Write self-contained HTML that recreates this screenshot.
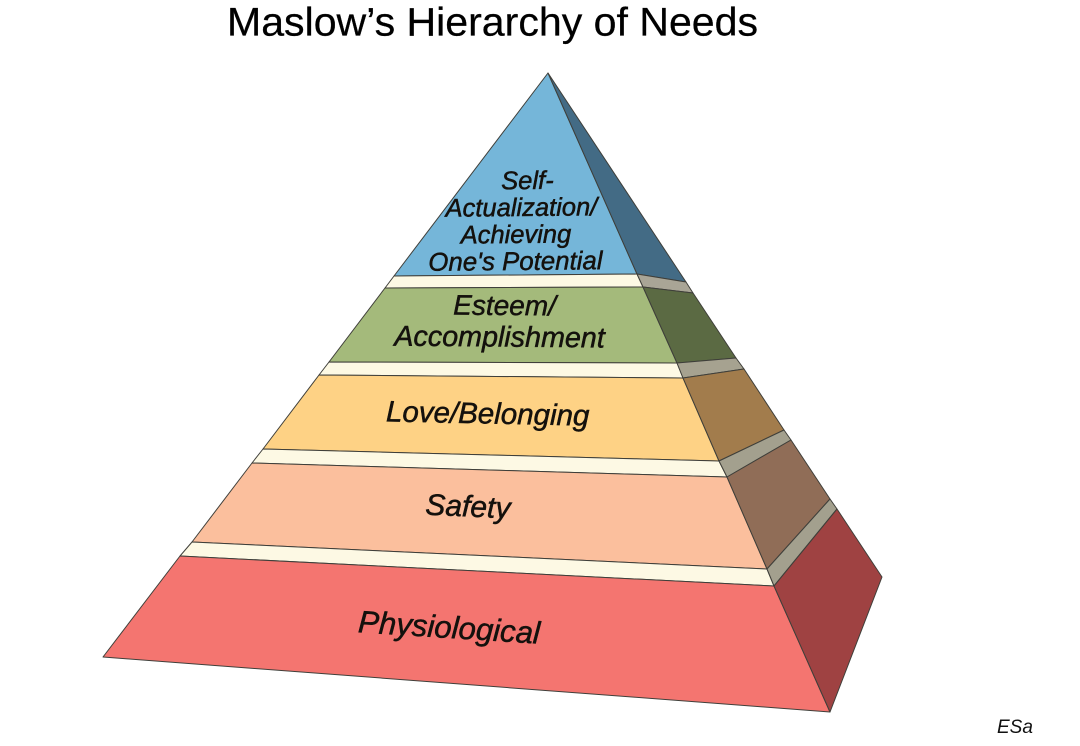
<!DOCTYPE html>
<html><head><meta charset="utf-8"><style>
html,body{margin:0;padding:0;background:#fff;width:1080px;height:746px;overflow:hidden}
svg{display:block;filter:blur(0.3px)}
text{font-family:"Liberation Sans",sans-serif}
.l{font-style:italic;fill:#14110d;stroke:#14110d;stroke-width:0.5;text-anchor:middle}
polygon{stroke:#3f3f3a;stroke-width:1;stroke-linejoin:round}
</style></head><body>
<svg width="1080" height="746" viewBox="0 0 1080 746" xmlns="http://www.w3.org/2000/svg">
<rect width="1080" height="746" fill="#fff"/>
<text x="227" y="35.5" font-size="40" fill="#000" stroke="#000" stroke-width="0.25" textLength="531" lengthAdjust="spacingAndGlyphs">Maslow’s Hierarchy of Needs</text>
<polygon fill="#75b6d9" points="548,73 637,274 394,276"/>
<polygon fill="#436b85" points="548,73 686,282 637,274"/>
<polygon fill="#fdf9e4" points="394,276 637,274 643,287 385,288"/>
<polygon fill="#a9a596" points="637,274 686,282 693,293 643,287"/>
<polygon fill="#a4ba7b" points="385,288 643,287 677,363 329,362"/>
<polygon fill="#5b6a43" points="643,287 693,293 736,358 677,363"/>
<polygon fill="#fdf9e4" points="329,362 677,363 683,378 319,375"/>
<polygon fill="#a6a290" points="677,363 736,358 744,369 683,378"/>
<polygon fill="#fed285" points="319,375 683,378 719,461 263,449"/>
<polygon fill="#a27c4c" points="683,378 744,369 784,430 719,461"/>
<polygon fill="#fdf9e4" points="263,449 719,461 727,477 252,463"/>
<polygon fill="#a3a08e" points="719,461 784,430 791,440 727,477"/>
<polygon fill="#fbbf9d" points="252,463 727,477 767,569 192,542"/>
<polygon fill="#906d57" points="727,477 791,440 830,499 767,569"/>
<polygon fill="#fdf9e4" points="192,542 767,569 774,586 180,556"/>
<polygon fill="#a3a08e" points="767,569 830,499 837,509 774,586"/>
<polygon fill="#f47570" points="180,556 774,586 830,712 103,657"/>
<polygon fill="#9f4242" points="774,586 837,509 882,577 830,712"/>
<g class="labels">
<text class="l" font-size="25.5" transform="translate(527.5,189) rotate(-0.5)">Self-</text>
<text class="l" font-size="25.5" transform="translate(521.5,216) rotate(-0.5)">Actualization/</text>
<text class="l" font-size="25.5" transform="translate(516,243) rotate(-0.5)">Achieving</text>
<text class="l" font-size="25.8" transform="translate(515.5,270) rotate(-0.5)">One's Potential</text>
<text class="l" font-size="28" transform="translate(504.5,315) rotate(0.5)">Esteem/</text>
<text class="l" font-size="28.7" transform="translate(499.5,346.5) rotate(0.5)">Accomplishment</text>
<text class="l" font-size="29.5" transform="translate(487.5,423.5) rotate(1.2)">Love/Belonging</text>
<text class="l" font-size="30" transform="translate(467.5,516.5) rotate(2.5)">Safety</text>
<text class="l" font-size="31.2" transform="translate(448.5,638) rotate(3.6)">Physiological</text>
</g>
<text x="997" y="733" font-size="19" font-style="italic" fill="#111">ESa</text>
</svg>
</body></html>
